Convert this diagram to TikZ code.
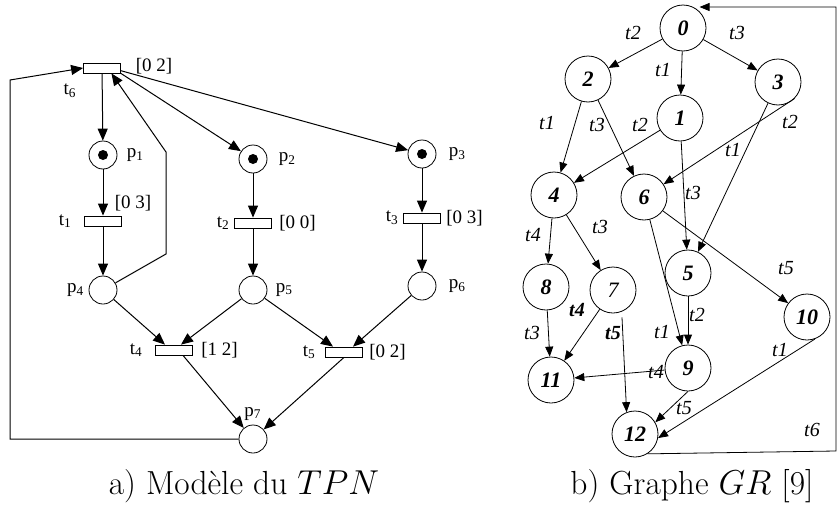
\documentclass[tikz,border=0pt]{standalone}
\usepackage{fontspec}
\newfontfamily\petrifont{Liberation Serif}
\usetikzlibrary{arrows.meta, positioning, calc}

\begin{document}
\begin{tikzpicture}[
    x=0.5pt, y=-0.5pt,
    place/.style={circle, draw, minimum size=14pt, inner sep=0pt},
    token/.style={circle, fill=black, minimum size=5pt, inner sep=0pt},
    trans/.style={rectangle, draw, minimum width=18.5pt, minimum height=5pt, inner sep=0pt},
    plabel/.style={font=\petrifont\fontsize{9.5}{10}\selectfont, inner sep=0pt},
    arc/.style={-{Triangle[length=6pt, width=5pt]}, line width=0.5pt},
    state/.style={circle, draw, minimum size=23pt, inner sep=0pt, font=\petrifont\fontsize{11}{12}\selectfont\bfseries\itshape},
    elabel/.style={font=\petrifont\fontsize{10}{11}\selectfont\itshape, inner sep=0pt},
    gedge/.style={-{Triangle[length=5pt, width=4pt]}, line width=0.4pt},
    caption/.style={font=\fontsize{16.7}{19}\selectfont}
]
\useasboundingbox (0,0) rectangle (837,509);

% Places and transitions of the TPN
\node[trans] (t6) at (102,68) {};
\node[place] (p1) at (103,155) {};
\node[token] (k1) at (p1) {};
\node[place] (p2) at (253,159) {};
\node[token] (k2) at (p2) {};
\node[place] (p3) at (422,154) {};
\node[token] (k3) at (p3) {};
\node[trans] (t1) at (103,221) {};
\node[trans] (t2) at (253,223) {};
\node[trans] (t3) at (422,218) {};
\node[place] (p4) at (103,290) {};
\node[place] (p5) at (253,290) {};
\node[place] (p6) at (422,286) {};
\node[trans] (t4) at (174,350) {};
\node[trans] (t5) at (344,352) {};
\node[place] (p7) at (253,439) {};

% Labels
\node[plabel, right=4.5pt of p1] (lp1) {p\textsubscript{1}};
\node[plabel, right=5.5pt of p2] (lp2) {p\textsubscript{2}};
\node[plabel, right=6pt of p3] (lp3) {p\textsubscript{3}};
\node[plabel, left=2pt of p4] (lp4) {p\textsubscript{4}};
\node[plabel, right=4pt of p5] (lp5) {p\textsubscript{5}};
\node[plabel, right=6pt of p6] (lp6) {p\textsubscript{6}};
\node[plabel, above=2pt of p7] (lp7) {p\textsubscript{7}};
\node[plabel] (lt6) at (70,91) {t\textsubscript{6}};
\node[plabel, left=6pt of t1] (lt1) {t\textsubscript{1}};
\node[plabel, left=2pt of t2] (lt2) {t\textsubscript{2}};
\node[plabel, left=2pt of t3] (lt3) {t\textsubscript{3}};
\node[plabel, left=6pt of t4] (lt4) {t\textsubscript{4}};
\node[plabel, left=4.5pt of t5] (lt5) {t\textsubscript{5}};
\node[plabel] (i6) at (154,66) {[0 2]};
\node[plabel] (i1) at (133,203) {[0 3]};
\node[plabel, right=3.5pt of t2] (i2) {[0 0]};
\node[plabel, right=2.5pt of t3] (i3) {[0 3]};
\node[plabel, right=4pt of t4] (i4) {[1 2]};
\node[plabel, right=3pt of t5] (i5) {[0 2]};

% Arcs
\coordinate (lb) at (10,80);
\coordinate (ra) at (166,254);
\coordinate (rb) at (166,152);
\draw[arc] (t6) -- (p1);
\draw[arc] (t6.south east) -- (p2);
\draw[arc] ($(t6.east)!0.5!(t6.south east)$) -- (p3);
\draw[arc] (p1) -- (t1);
\draw[arc] (p2) -- (t2);
\draw[arc] (p3) -- (t3);
\draw[arc] (t1) -- (p4);
\draw[arc] (t2) -- (p5);
\draw[arc] (t3) -- (p6);
\draw[arc] (p4) -- ($(t4.north)+(-9,0)$);
\draw[arc] (p5) -- ($(t4.north)+(7,0)$);
\draw[arc] (p5) -- ($(t5.north)+(-11,0)$);
\draw[arc] (p6) -- ($(t5.north)+(9,0)$);
\draw[arc] ($(t4.south)+(9,0)$) -- (p7);
\draw[arc] (t5.south) -- (p7);
\draw[arc] (p4) -- (ra) -- (rb) -- ($(t6.south)!0.5!(t6.south east)$);
\draw[arc] (p7.west) -| (lb) -- (t6.west);

% Graph GR
\node[state] (s0) at (683,28) {0};
\node[state] (s2) at (588,79) {2};
\node[state] (s3) at (778,82) {3};
\node[state] (s1) at (680,118) {1};
\node[state] (s4) at (554,195) {4};
\node[state] (s6) at (644,197) {6};
\node[state] (s5) at (688,273) {5};
\node[state] (s8) at (546,287) {8};
\node[state, font=\petrifont\fontsize{11}{12}\selectfont\itshape] (s7) at (613,290) {7};
\node[state] (s10) at (807,317) {10};
\node[state] (s9) at (688,368) {9};
\node[state] (s11) at (551,380) {11};
\node[state] (s12) at (635,434) {12};

\coordinate (gb) at (836,451);
\coordinate (gt) at (836,7);
\draw[gedge] (s0) -- (s2);
\draw[gedge] (s0) -- (s1);
\draw[gedge] (s0) -- (s3);
\draw[gedge] (s2) -- (s4);
\draw[gedge] (s2) -- (s6);
\draw[gedge] (s1) -- (s4);
\draw[gedge] (s1) -- (s5);
\draw[gedge] (s3.-45) -- (s6);
\draw[gedge] (s3) -- (s5);
\draw[gedge] (s4) -- (s8);
\draw[gedge] (s4) -- (s7);
\draw[gedge] (s6) -- (s9);
\draw[gedge] (s6) -- (s10);
\draw[gedge] (s5) -- (s9);
\draw[gedge] (s8) -- (s11);
\draw[gedge] (s7) -- (s11);
\draw[gedge] ($(s7.south)+(9,4)$) -- (s12.111);
\draw[gedge] (s9) -- (s11);
\draw[gedge] (s9.south) -- (s12.30);
\draw[gedge] (s10.-70) -- (s12.-10);
\draw[gedge] (s12.-58) -- (gb) -- (gt) -- (gt -| s0.north east);

\node[elabel] (l02) at (633,33) {t2};
\node[elabel] (l01) at (663,70) {t1};
\node[elabel] (l03) at (737,33) {t3};
\node[elabel] (l24) at (547,123) {t1};
\node[elabel] (l26) at (597,125) {t3};
\node[elabel] (l14) at (640,125) {t2};
\node[elabel] (l36) at (790,122) {t2};
\node[elabel] (l35) at (733,150) {t1};
\node[elabel] (l15) at (693,193) {t3};
\node[elabel] (l48) at (533,235) {t4};
\node[elabel] (l47) at (600,227) {t3};
\node[elabel] (l610) at (786,268) {t5};
\node[elabel] (l59) at (697,315) {t2};
\node[elabel] (l69) at (662,332) {t1};
\node[elabel] (l811) at (532,333) {t3};
\node[elabel, font=\petrifont\fontsize{10}{11}\selectfont\bfseries\itshape] (l711) at (577,310) {t4};
\node[elabel, font=\petrifont\fontsize{10}{11}\selectfont\bfseries\itshape] (l712) at (613,333) {t5};
\node[elabel] (l911) at (656,372) {t4};
\node[elabel] (l912) at (684,408) {t5};
\node[elabel] (l1012) at (780,350) {t1};
\node[elabel] (l120) at (812,430) {t6};

% Captions
\node[caption] (capa) at (244,486) {a) Modèle du $TPN$};
\node[caption] (capb) at (692,486) {b) Graphe $GR$ [9]};

\end{tikzpicture}
\end{document}
